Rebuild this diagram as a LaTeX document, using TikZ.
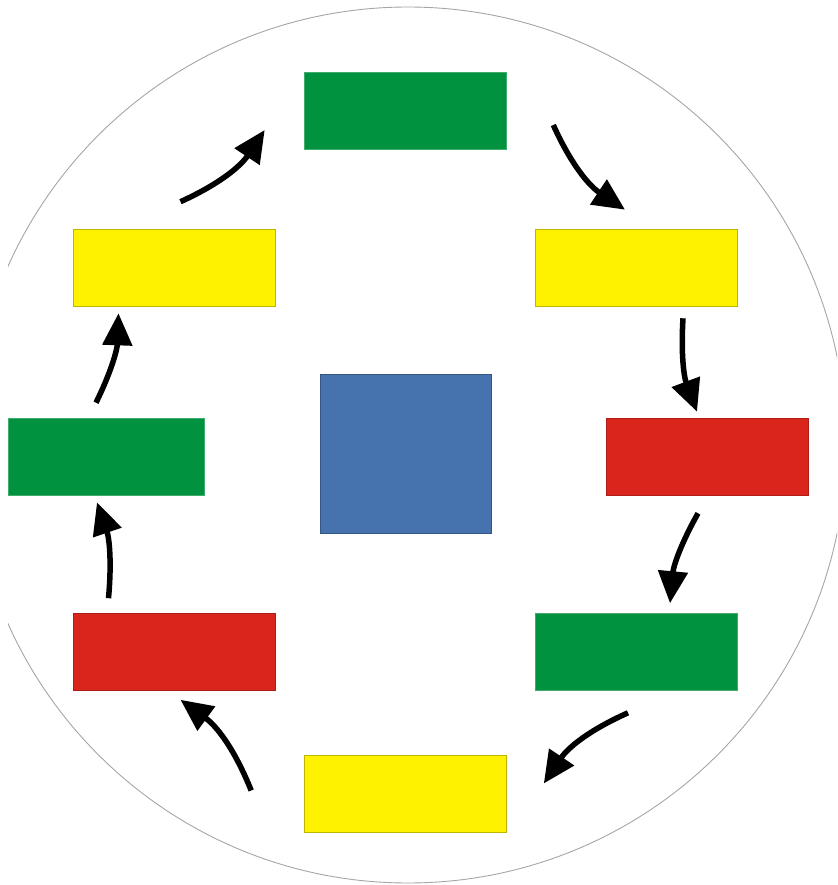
\documentclass[tikz,border=0pt]{standalone}
\usetikzlibrary{arrows.meta}
\definecolor{boxgreen}{RGB}{0,146,63}
\definecolor{boxyellow}{RGB}{255,242,0}
\definecolor{boxred}{RGB}{218,37,29}
\definecolor{boxblue}{RGB}{70,114,174}
\definecolor{ringgray}{RGB}{165,165,165}
\tikzset{
  box/.style={rectangle, inner sep=0pt, minimum width=202pt, minimum height=77pt, line width=0.6pt},
  gbox/.style={box, fill=boxgreen, draw=boxgreen!75!white},
  ybox/.style={box, fill=boxyellow, draw=boxyellow!75!black},
  rbox/.style={box, fill=boxred, draw=boxred!80!black},
  flow/.style={line width=5.5pt, -{Triangle[length=32pt,width=29pt]}}
}
\begin{document}
\begin{tikzpicture}[x=1pt,y=-1pt]
\useasboundingbox (0,0) rectangle (837,885);
% outer ring
\begin{scope}
\clip (8,0) rectangle (837,885);
\draw[ringgray, line width=0.9pt] (408,445) circle[radius=438pt];
\end{scope}
% boxes
\node[gbox] (gtop) at (405,111) {};
\node[ybox] (yul) at (174.5,267.5) {};
\node[ybox] (yur) at (636,267.5) {};
\node[gbox, minimum width=196pt] (gleft) at (106,456.5) {};
\node[rbox] (rright) at (707,456.5) {};
\node[box, fill=boxblue, draw=boxblue!75!black, minimum width=171pt, minimum height=159pt] (center) at (405.5,453.5) {};
\node[rbox] (rll) at (174.5,652) {};
\node[gbox] (glr) at (636,652) {};
\node[ybox] (ybot) at (405.5,793.5) {};
% arrows
\draw[flow] ([shift={(47,14)}]gtop.east) to[bend right=16] ([shift={(-11,-19)}]yur.north);
\draw[flow] ([shift={(47,12)}]yur.south) to[bend right=12] ([shift={(-10,-6)}]rright.north);
\draw[flow] ([shift={(-9,18)}]rright.south) to[bend right=12] ([shift={(34,-10)}]glr.north);
\draw[flow] ([shift={(-8,22)}]glr.south) to[bend right=16] ([shift={(37,-10)}]ybot.east);
\draw[flow] ([shift={(-53,-3)}]ybot.west) to[bend right=16] ([shift={(6,9)}]rll.south);
\draw[flow] ([shift={(-66,-15)}]rll.north) to[bend right=12] ([shift={(-9,7)}]gleft.south);
\draw[flow] ([shift={(-10,-15)}]gleft.north) to[bend right=12] ([shift={(-56,7)}]yul.south);
\draw[flow] ([shift={(6,-27)}]yul.north) to[bend right=16] ([shift={(-39,19)}]gtop.west);
\end{tikzpicture}
\end{document}
